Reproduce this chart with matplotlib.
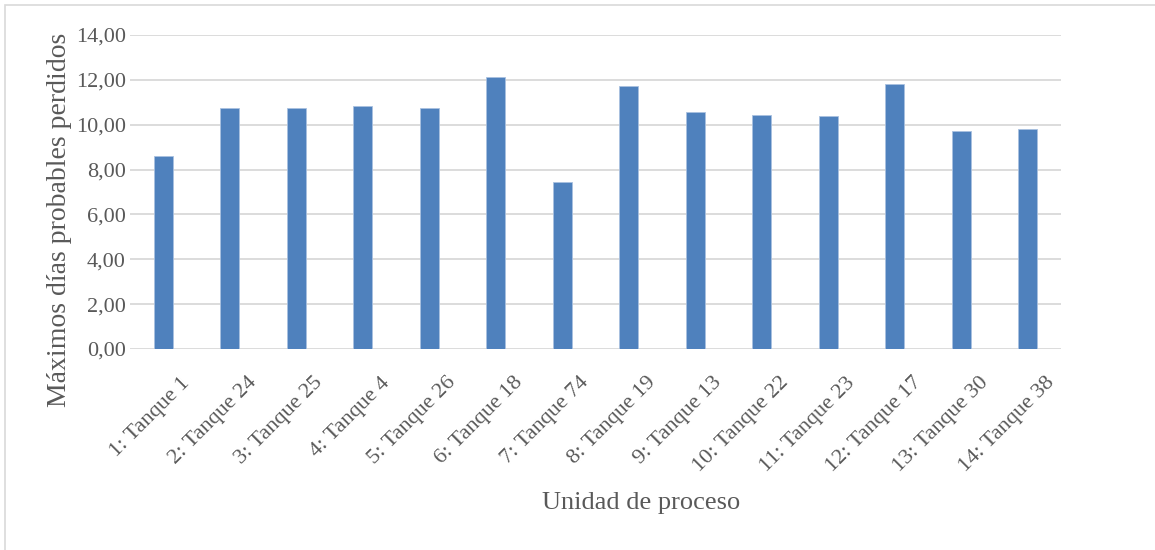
import matplotlib
matplotlib.use("Agg")
import matplotlib.pyplot as plt
from matplotlib.patches import Rectangle
from matplotlib.transforms import ScaledTranslation

categories = ["1: Tanque 1", "2: Tanque 24", "3: Tanque 25", "4: Tanque 4",
              "5: Tanque 26", "6: Tanque 18", "7: Tanque 74", "8: Tanque 19",
              "9: Tanque 13", "10: Tanque 22", "11: Tanque 23", "12: Tanque 17",
              "13: Tanque 30", "14: Tanque 38"]
dias_perdidos = [8.60, 10.76, 10.76, 10.85, 10.76, 12.11, 7.45, 11.73,
                 10.56, 10.45, 10.38, 11.83, 9.74, 9.80]
yticks = [0, 2, 4, 6, 8, 10, 12, 14]

plt.rcParams["font.family"] = ["Liberation Serif", "DejaVu Serif"]
text_color = "#595959"

W, H = 1155, 550
fig = plt.figure(figsize=(W / 100, H / 100), dpi=100)
ax = fig.add_axes([130 / W, 1 - 349 / H, (1061 - 130) / W, (349 - 35) / H])

# chart frame
fig.patches.append(Rectangle((5 / W, -0.01), 1.2, 1 - 5 / H + 0.01,
                             transform=fig.transFigure, fill=False,
                             edgecolor="#D9D9D9", linewidth=1.2))

x = range(len(categories))
ax.bar(x, dias_perdidos, width=0.29, color="#4F81BD",
       edgecolor="#A9C1E0", linewidth=0.6, zorder=3)

ax.set_xlim(-0.5, len(categories) - 0.5)
ax.set_ylim(0, 14)
ax.set_yticks(yticks)
ax.set_yticklabels([f"{v:.2f}".replace(".", ",") for v in yticks],
                   fontsize=16, color=text_color)
ax.set_xticks(list(x))
ax.set_xticklabels(categories, rotation=45, ha="right", va="center",
                   rotation_mode="anchor", fontsize=16, color=text_color)
ax.tick_params(axis="both", length=0)
ax.tick_params(axis="y", pad=3)
ax.tick_params(axis="x", pad=0)
shift = ScaledTranslation(24 / 100, -31 / 100, fig.dpi_scale_trans)
for lbl in ax.get_xticklabels():
    lbl.set_transform(lbl.get_transform() + shift)

ax.grid(axis="y", color="#D9D9D9", linewidth=1.3, zorder=0)
for s in ax.spines.values():
    s.set_visible(False)

ax.set_xlabel("Unidad de proceso", fontsize=19, color=text_color)
ax.set_ylabel("Máximos días probables perdidos", fontsize=20, color=text_color)
ax.xaxis.set_label_coords((641 - 130) / (1061 - 130), -(503 - 349) / (349 - 35))
ax.yaxis.set_label_coords(-(130 - 60) / (1061 - 130), (349 - 220) / (349 - 35))
ax.xaxis.label.set_va("center")
ax.yaxis.label.set_va("center")

fig.savefig("out.png", dpi=100)
